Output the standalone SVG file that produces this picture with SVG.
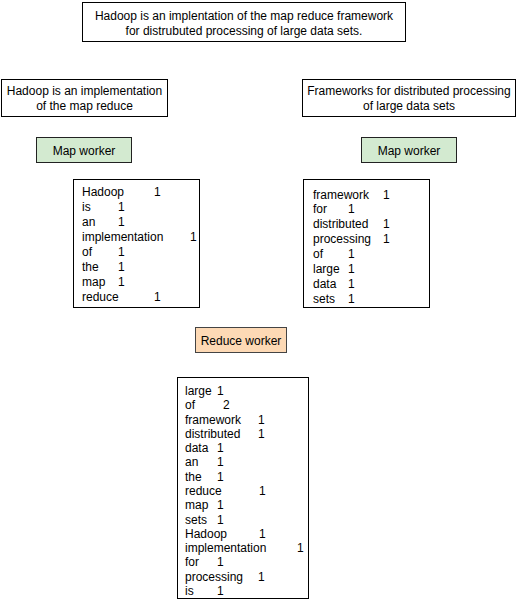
<svg xmlns="http://www.w3.org/2000/svg" width="517" height="601" viewBox="0 0 517 601">
<style>
text{font-family:"Liberation Sans",Arial,sans-serif;font-size:12px;fill:#000}
.c{text-anchor:middle}
.box{fill:#fff;stroke:#000;stroke-width:1}
.map{fill:#d3ead0;stroke:#222;stroke-width:1}
.red{fill:#fdd9b5;stroke:#444;stroke-width:1}
</style>
<rect width="517" height="601" fill="#fff"/>
<g id="summary">
<rect class="box" x="82.5" y="2.5" width="323" height="39"/>
<text class="c" x="244" y="20">Hadoop is an implentation of the map reduce framework</text>
<text class="c" x="244" y="35">for distrubuted processing of large data sets.</text>
</g>
<g id="input1">
<rect class="box" x="1.5" y="79.5" width="166" height="37"/>
<text class="c" x="84.5" y="95">Hadoop is an implementation</text>
<text class="c" x="84.5" y="110">of the map reduce</text>
</g>
<g id="input2">
<rect class="box" x="302.5" y="79.5" width="213" height="37"/>
<text class="c" x="409" y="95">Frameworks for distributed processing</text>
<text class="c" x="409" y="110">of large data sets</text>
</g>
<g id="map1">
<rect class="map" x="36.5" y="137.5" width="95" height="25"/>
<text class="c" x="84" y="154.5">Map worker</text>
</g>
<g id="map2">
<rect class="map" x="361.5" y="137.5" width="95" height="25"/>
<text class="c" x="409" y="154.5">Map worker</text>
</g>
<g id="counts1">
<rect class="box" x="73.5" y="179.5" width="126" height="128"/>
<text x="82" y="196">Hadoop</text><text x="154" y="196">1</text>
<text x="82" y="211">is</text><text x="118" y="211">1</text>
<text x="82" y="226">an</text><text x="118" y="226">1</text>
<text x="82" y="241">implementation</text><text x="190" y="241">1</text>
<text x="82" y="256">of</text><text x="118" y="256">1</text>
<text x="82" y="271">the</text><text x="118" y="271">1</text>
<text x="82" y="286">map</text><text x="118" y="286">1</text>
<text x="82" y="301">reduce</text><text x="154" y="301">1</text>
</g>
<g id="counts2">
<rect class="box" x="303.5" y="179.5" width="126" height="128"/>
<text x="313" y="198.5">framework</text><text x="383" y="198.5">1</text>
<text x="313" y="213.4">for</text><text x="348" y="213.4">1</text>
<text x="313" y="228.2">distributed</text><text x="383" y="228.2">1</text>
<text x="313" y="243.1">processing</text><text x="383" y="243.1">1</text>
<text x="313" y="258">of</text><text x="348" y="258">1</text>
<text x="313" y="272.8">large</text><text x="348" y="272.8">1</text>
<text x="313" y="287.7">data</text><text x="348" y="287.7">1</text>
<text x="313" y="302.5">sets</text><text x="348" y="302.5">1</text>
</g>
<g id="reduce">
<rect class="red" x="195.5" y="327.5" width="91" height="25"/>
<text class="c" x="241" y="344.5">Reduce worker</text>
</g>
<g id="result">
<rect class="box" x="177.5" y="377.5" width="131" height="221"/>
<text x="185" y="395">large</text><text x="217" y="395">1</text>
<text x="185" y="409.3">of</text><text x="223" y="409.3">2</text>
<text x="185" y="423.6">framework</text><text x="258" y="423.6">1</text>
<text x="185" y="437.9">distributed</text><text x="258" y="437.9">1</text>
<text x="185" y="452.1">data</text><text x="217" y="452.1">1</text>
<text x="185" y="466.4">an</text><text x="217" y="466.4">1</text>
<text x="185" y="480.7">the</text><text x="217" y="480.7">1</text>
<text x="185" y="495">reduce</text><text x="259" y="495">1</text>
<text x="185" y="509.3">map</text><text x="217" y="509.3">1</text>
<text x="185" y="523.6">sets</text><text x="217" y="523.6">1</text>
<text x="185" y="537.9">Hadoop</text><text x="259" y="537.9">1</text>
<text x="185" y="552.1">implementation</text><text x="297" y="552.1">1</text>
<text x="185" y="566.4">for</text><text x="217" y="566.4">1</text>
<text x="185" y="580.7">processing</text><text x="258" y="580.7">1</text>
<text x="185" y="595">is</text><text x="217" y="595">1</text>
</g>
<g id="connectors"></g>
</svg>
